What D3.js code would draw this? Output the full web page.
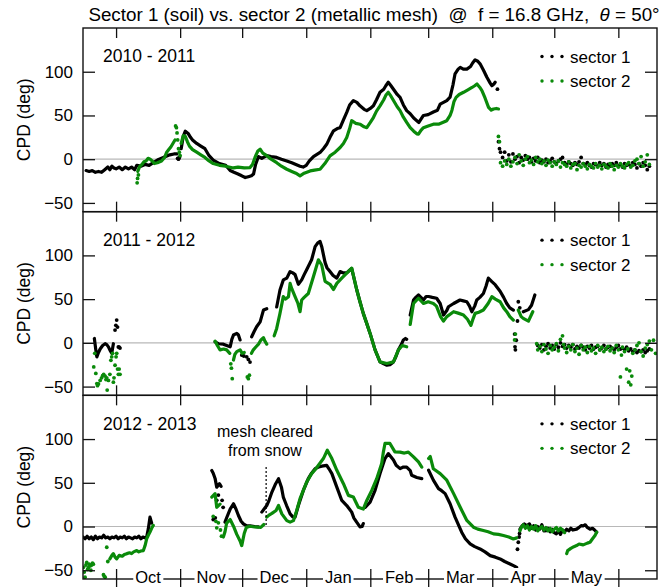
<!DOCTYPE html>
<html><head><meta charset="utf-8">
<script src="https://cdn.jsdelivr.net/npm/d3@7"></script>
<style>body{margin:0;background:#fff} svg{display:block}</style>
</head><body>
<svg id="chart" width="665" height="587"></svg>
<script>
// ---------- DATA (day offset from Oct 1, CPD in deg) ----------
const titleMain = "Sector 1 (soil) vs. sector 2 (metallic mesh)  @  f = 16.8 GHz,  ";
const titleTheta = "θ";
const titleEnd = " = 50°";
const yLabel = "CPD (deg)";
const yDomain = [-60, 150];
const yTicks = [-50, 0, 50, 100];
const xDomain = [-16, 261.7];
const monthDays = [0, 31, 61, 92, 123, 151, 182, 212, 243];
const monthLabels = ["Oct", "Nov", "Dec", "Jan", "Feb", "Mar", "Apr", "May"];
const panelLabels = ["2010 - 2011", "2011 - 2012", "2012 - 2013"];
const seriesNames = ["sector 1", "sector 2"];
const annotText = ["mesh cleared", "from snow"];
const annotDay = 72.6, annotTop = 68;

// 2010-2011
const s1_1011 = [[-14.5,-13],[-13,-14],[-11.5,-13],[-10,-15],[-8.5,-14],[-7,-15],[-5.5,-12],[-4,-9],[-3,-12],[-2,-8],[-1,-10],[0,-11],[1.5,-9],[3,-12],[4.5,-9],[6,-11],[7.5,-9],[9,-12],[10,-7],[12,-8],[14,-6],[16,-7],[18,-4],[20,-1],[22,1],[24,3],[26,5],[28,6],[29.5,6],null,[31.5,12],[32.5,26],[33.5,32],[35,29],[36,25],[37,22],[39,18],[41,15],[43,12],[45,4],[47,-1],[50,-5],[53,-7],[55.2,-13],[57,-15],[59,-17],[60.8,-19],[62.5,-21],[64,-20],[65.5,-19],[66.5,-17],[67.5,-6],[68.9,3],[70.5,1],[72.9,4],[75,3],[77.7,2],[80,0],[82.6,-2],[85,-4],[87,-6],[89,-8],[90.5,-9],[92,-7],[93.5,-2],[95.5,3],[98.7,7.7],[100.3,12],[101.9,17],[103.5,25],[105.2,32.5],[107,35],[108.4,36],[110,45],[111.6,53.5],[113,62],[114.8,67],[116.5,65],[118,61],[120,57],[121.3,55.5],[123,58],[124.5,61],[126,68],[127.7,76.5],[129.5,80],[130.5,84],[131.7,88],[133,84],[134.2,80],[136,74],[137.4,70.7],[139,62],[140.6,55.5],[142.3,52],[144,47],[145.5,44],[146.5,42],[148.7,50],[151,51],[153.5,54],[155.5,56],[156.8,63],[158.4,65],[160,67],[161.6,71],[163,85],[164,97.6],[165.5,103],[166.5,105],[168,103],[169.7,103],[171.5,106],[172.5,110],[173.7,113.6],[175,112],[176.1,109],[177.7,102],[179.4,93.7],[181,87],[181.8,84],[182.8,86],[183.4,88]];
const s2_1011 = [[10.5,-14],[11.5,-8],[12.5,-6],[13.5,-3],[14.5,-2],[15.5,1],[16.5,0],[17.5,-2],[18.5,-5],[20,-4],[22,-2],[23.5,2],[24.5,8],[25.5,11],[26.5,14],[27.5,18],[28.5,22],null,[31.5,18],[32.5,27],[33.5,26],[34.5,20],[35.5,15],[37,11],[39,8],[41,5],[43,2],[45,-2],[47,-5],[50,-7],[53,-8],[56.8,-10],[59,-9],[62,-10],[64.8,-9.6],[66,-6],[67.2,2],[68.5,9],[69.7,11.5],[71,7],[72.9,4],[75,0],[77.7,-4],[80,-8],[82.6,-11.5],[85,-14],[87,-16],[89,-19],[91,-16],[93.9,-13.4],[96,-12.5],[98.7,-11.5],[101,-5],[103.5,3.8],[106,8],[108.4,13.4],[110,18],[111.6,24.8],[113,35],[114,44],[116,41],[118,40],[120,37],[121.3,36],[123,42],[124.5,47.6],[126,55],[127.7,61],[129.5,68],[130.5,73],[131.7,76.5],[133,72],[134.5,66],[136,60],[137.4,55.5],[139,48],[140.6,42],[142.3,36],[144,32],[145.5,29],[146.3,28.6],[147.5,33],[148.7,36],[151,38],[153.5,40],[156,40],[158,42],[160,44],[161.6,50],[162.5,56],[163.5,66],[164.5,70.7],[166,74],[168.1,76.5],[170,79],[172.2,82],[173.5,84],[174.6,86],[176,82],[177,78.5],[178.5,70],[180.2,59.3],[181.5,56],[182.6,57.4],[184,58],[185,57.4]];
const s1_1011_dots = [[29.8,1],[30.2,0],[30.6,2],[184.5,80],[185,20],[185.5,12],[186,8],[187,2],[188,8],[189,-2],[190,5],[191,-3],[192,6],[193,0],[194,3],[195,-4],[196,2],[197,-1],[198,4],[199,0],[200,2],[201,-3],[202,1],[203,-2],[204,2],[205,-4],[206,-1],[207,-3],[208,0],[209,-4],[210,-2],[211,1],[212,-3],[213,-5],[214,-2],[215,0],[216,2],[217,-4],[218,-6],[219,-3],[220,-5],[221,-7],[222,-4],[223,-6],[224,-3],[225,2],[226,-5],[227,-6],[228,-4],[229,-7],[230,-9],[231,-5],[232,-6],[233,-8],[234,-4],[235,-7],[236,-5],[237,-9],[238,-6],[239,-8],[240,-5],[241,-7],[242,-4],[243,-8],[244,-6],[245,-9],[246,-5],[247,-7],[248,-6],[249,-8],[250,-4],[251,-6],[252,-10],[253,-5],[254,-8],[255,-4],[256,-7],[257,-12],[258,-8]];
const s2_1011_dots = [[10.2,-27],[10.4,-22],[10.8,-18],[28.8,38],[29.2,36],[29.5,30],[29.8,22],[30.2,12],[30.6,8],[31,4],[185,26],[185.5,20],[186,-4],[187,-8],[188,-2],[189,-6],[190,0],[191,-8],[192,-3],[193,2],[194,-5],[195,5],[196,-2],[197,-7],[198,0],[199,3],[200,-4],[201,-1],[202,-6],[203,2],[204,-3],[205,0],[206,-5],[207,-2],[208,-7],[209,-1],[210,-4],[211,-8],[212,-3],[213,-6],[214,-2],[215,-9],[216,-4],[217,-6],[218,-8],[219,-3],[220,-10],[221,-6],[222,-5],[223,-12],[224,-7],[225,-9],[226,-5],[227,-8],[228,-11],[229,-6],[230,-8],[231,-10],[232,-5],[233,-9],[234,-7],[235,-11],[236,-6],[237,-8],[238,-10],[239,-5],[240,-8],[241,-12],[242,-7],[243,-9],[244,-5],[245,-8],[246,-10],[247,-6],[248,-4],[249,-9],[250,-7],[251,-2],[252,0],[253,-5],[254,3],[255,-8],[256,-3],[257,5],[258,-6]];

// 2011-2012
const s1_1112 = [[-10.5,5],[-9.8,-8],[-9.3,-16],[-8.5,-11],[-7.7,-7],[-6.5,-3],[-5.3,-1],[-4.5,-2],[-3.7,-4.6],[-2.8,-9],[-2.1,-12],[-1.3,-1],null,[47.9,1.2],[49.5,-1],[51.9,-1.5],[53.5,-3],[55.2,-4.5],[56,4],[56.8,9],[58.4,10.8],[59.2,9],[60,3.3],null,[65.6,7],[66.8,13],[68,18.4],[69.7,24],[71.3,37.5],[72.9,39],null,[77.7,41],[79.3,60.5],[80.9,72],[82.6,74],[84.2,81.5],[85.5,80],[86.6,78],[88.2,67],[89.8,72],[91,78],[92.2,83.6],[94.6,95],[96.3,110],[97.5,114],[98.7,116],[99.5,110],[101.1,92],[102,86],[103.5,81.5],[105,77],[106.8,74],[108.4,81.5],[110,80],[111.6,80],[113,83],[114,85],[116.4,61],[118,47],[119.6,33.7],[121.3,22],[122.9,10.8],[125.3,-8],[127.7,-21.8],[129.5,-24],[131,-25.5],[132.5,-25],[134.2,-21.8],[135.5,-15],[136.6,-8],[138,-2],[139,3.3],[140,5],[140.6,4],null,[142.3,31.8],[143.9,49],[145,52],[146.3,54.7],[147.5,52],[148.7,49],[150,53],[151.2,53],[153,52],[155.1,51],[156.8,45],[158.4,31.8],[160,37],[160.8,41.3],[163.3,45],[166.4,49],[168,48],[169.7,47],[171,42],[172.1,35.6],[173.5,42],[174.5,49],[176,52],[177.7,56.4],[179,65],[180.1,74],[181.8,70],[183.4,66.5],[185.8,59],[187.5,52],[189,45],[190.5,40],[192.2,37.5],null,[197,35.6],[199.5,38],[201,43],[202.6,54.7]];
const s2_1112 = [[47.9,2],[49,-3],[50.3,-8],[52,-7],[53.5,-8],[55,-12],null,[56.8,-19.6],[57.5,-13],[58.4,-10],[60,-8],[61,-12],[62,-11],null,[65.5,-12],[66.4,-8],[67.5,-5],[68.9,-1.5],[70,3],[71.3,6],[72,2],[72.9,-1.5],null,[76.5,8],[77.7,16.5],[79.3,33.7],[80.9,52.8],[82,50],[83.4,52.8],[84.2,68],[85,62],[86.6,52.8],[88,45],[89,35.6],[89.8,49],[91,52],[93,56.4],[95.5,75.8],[97.9,95],[99.5,89],[101.1,70.4],[103.5,67],[105.2,61],[106.8,68],[109.2,74],[111.6,79.7],[114,85.4],[116.4,61],[118,47],[119.6,33.7],[121.3,22],[122.9,10.8],[125.3,-8],[127.7,-21.8],[131,-23.6],[134.2,-21.8],[136.6,-8],[138.5,-3],[140.6,-4.5],null,[142.3,21],[143.9,45],[146.3,51],[148.7,45],[151,47],[153.5,45],[155,42],[157,30],[158.4,24.8],[160,30],[163.3,35.6],[165.5,34],[168.1,31.8],[170,27],[171.7,20],[172.8,28],[173.7,33.7],[175.5,35],[177.7,37.5],[180,45],[181.8,52.8],[183.5,50],[185.8,47],[187.5,40],[189,35.6],[190.5,30],[192.2,26],null,[194.6,37.5],[196,30],[197,28],[199.5,24.8],[201.6,35.6]];
const s1_1112_dots = [[-0.5,14.6],[-0.1,20],[0.3,26],[0.7,18],[1.1,-4.6],[1.5,-5],[1.9,-6],[60.8,-14],[61.8,-15],[63.2,-16],[64,-19],[64.8,-22],[192.8,10],[193,-4.5],[193.2,-8],[193.6,3],[194.2,25],[194.6,47],[195.3,40],[204,-3],[205,-6],[206,-2],[207,-8],[208,-4],[209,-1],[210,-6],[211,-3],[212,-7],[213,-2],[214,-5],[215,0],[216,-4],[217,-2],[218,-6],[219,-3],[220,-5],[221,-2],[222,-7],[223,-4],[224,-6],[225,-3],[226,-5],[227,-8],[228,-4],[229,-6],[230,-3],[231,-7],[232,-5],[233,-4],[234,-8],[235,-6],[236,-3],[237,-7],[238,-5],[239,-4],[240,-6],[241,-8],[242,-5],[243,-3],[244,-7],[245,-6],[246,-8],[247,-5],[248,-9],[249,-7],[250,-10],[251,-8],[252,-11],[253,-9],[254,-10],[255,-8],[256,-11],[257,-9],[258,-7]];
const s2_1112_dots = [[-10.8,-27.5],[-10.3,-12],[-9.8,-35],[-9.3,-46.6],[-9,-49],[-8.5,-47],[-7.7,-43],[-7,-40],[-6.5,-37.5],[-6,-36],[-5.3,-38],[-4.9,-42],[-4.5,-40],[-4.3,-54],[-3.7,-43],[-3,-36],[-2.5,-20],[-2.1,-16],[-1.7,-12],[-1.3,-45],[-1,-40],[-0.5,-25.6],[0,-16],[0.3,-12],[0.7,-30],[1.1,-36],[1.5,-30],[1.9,-36],[55.5,-24],[55.8,-29],[56.2,-41],[63.5,-39],[64,-41],[64.5,-37],[192.8,3.3],[193.2,10],[203.5,-1],[204,-8],[205,-4],[206,-10],[207,-2],[208,-7],[209,-12],[210,-3],[211,-8],[212,-5],[213,-1],[214,-9],[215,4],[216,8],[216.5,-2],[217,-6],[218,-11],[219,-4],[220,-8],[221,-2],[222,-10],[223,-6],[224,-13],[225,-3],[226,-8],[227,-5],[228,-11],[229,-4],[230,-9],[231,-6],[232,-12],[233,-3],[234,-8],[235,-5],[236,-10],[237,-7],[238,-4],[239,-9],[240,-6],[241,-11],[242,-3],[243,-8],[244,-39],[244.5,-14],[245,-5],[246,-10],[247,-30],[247.5,-7],[248,-45],[248.5,-32],[249,-48],[249.5,-38],[250,-12],[251,-8],[252,-3],[253,0],[254,-10],[255,-15],[256,-6],[257,-2],[258,2],[259,-8],[260,3],[261,-12]];

// 2012-2013
const s1_1213 = [[-16,-12],[-15,-14],[-14,-11],[-13,-14],[-12,-12],[-11,-15],[-10,-11],[-9,-14],[-8,-12],[-7,-13],[-6,-10],[-5,-13],[-4,-12],[-3,-14],[-2,-12],[-1,-13],[0,-11],[1,-14],[2,-12],[3,-13],[4,-11],[5,-14],[6,-12],[7,-13],[8,-14],[9,-12],[10,-13],[11,-11],[12,-14],[13,-12],[14,-13],[14.8,-12],[15.6,-2.7],[16.4,10.7],[17.2,4],null,[46.3,64],[47,61],[47.9,55],[48.7,45],[50,49],[50.8,46],null,[52.7,5],[53.5,10],[55.2,20],[56.8,26],[58,20],[59.2,12.6],[60.5,6],[61.6,3],[63,1],[64.8,0.8],[67,0],[68.9,-0.4],null,[70.5,16.5],[72.9,24],[74,30],[75.4,39.4],[77,48],[78.6,54.7],[80,45],[80.9,33.7],[82.5,24],[84.2,14.5],[85.5,11],[86.6,10.7],[88.2,24],[90.6,41.3],[93,54.7],[94.6,61],[96.3,66.2],[98,68],[99.5,69],[101.9,70],[103,66],[104.4,60.5],[106.8,45],[109.2,29.8],[111.6,24],[114,16.5],[115,10],[116.4,5],[118,-0.4],[119,0],[119.6,3.4],null,[120.5,22],[122.9,28],[125.3,41.3],[127.7,60.5],[130.1,77.7],[131.7,83.4],[134.2,76],[135.5,70],[137.4,66.2],[139,68],[140.6,68],[142.3,64],[143,58.6],[145.5,56],[147.9,54.7],null,[151.2,64.3],[153.5,53],[156,43.4],[157.5,41],[159.2,37.6],[161.6,26],[164,10.7],[167.2,-6.5],[169,-14],[171.3,-19.9],[173.5,-23],[176.1,-25.6],[178.5,-29],[181,-33.3],[183.5,-35],[185.8,-37],[188,-40],[190.6,-42.8],[192.5,-45],[193.8,-46.7],null,[195.4,-3],[196.5,1],[197.5,3],[198.6,0.8],[200,3],[201,-2],[202,1],[203,-4],[204,0],[205,-3],[206,2],[207,-5],[208.2,-4.6],[209,-2],[210,-6],[211,-3],[212,-7],[213,-8.4],[214,-5],[215,-9],[216,-4],[217,-6],[218,-3],[219,-5],[220,-2],[221,-4],[222.8,-3],[224,-1],[225,1],[226,0.8],[227,2],[228,-1],[229.3,-3],[230.5,-2],[231.5,-4],[232.5,-6.5]];
const s2_1213 = [[-3,-37],[-2,-33],[-1.3,-31],[-0.5,-35],[0.3,-37],[1.5,-33],[3,-34],[4,-32],[5.2,-31],[6.5,-30],[7.5,-31],[8.5,-29],[10,-27.5],[11,-29],[12,-28],[13.2,-27.5],[14,-22],[14.8,-14],[15.6,-10],[16.4,-6.4],[17.2,-2],[18,1.3],null,[46.3,33.7],[47.9,37.5],[48.7,22],[50.3,25.6],null,[51.9,-12],[52.7,-6],[53.5,4],[55.2,8],[56.8,0.4],[58.4,-9],[60,-16.5],[60.8,-21.8],[62,-8],[63,-1],[64.8,0.3],[67,-0.5],[68.9,-0.8],[70,-1],[71.5,2.3],null,[72.9,10.7],[74,13],[75.4,15],[77.4,18.4],[78.6,24],[80.2,14.5],[82.6,6.7],[84.2,5],[85.8,6.7],[87.4,18.4],[89,31.8],[90.6,41.3],[92.2,50.8],[94.6,60.5],[96.3,65],[97.9,70],[100.3,77.7],[102.2,87.2],[104.4,77.7],[106.8,64.3],[110,49],[112.4,35.6],[114.8,33.7],[117.2,22],[119.6,20],[121.3,29.8],[123.7,41.3],[126.1,54.7],[128.5,72],[129.3,85],[130.1,95],[132.5,95],[134.9,85.3],[137.4,85],[139.5,84],[141.4,85],[143.9,79.7],[146.3,73.8],[147.9,68],null,[151.2,77.7],[152,80],[153.5,66],[156.8,60.5],[160,53],[163.3,37.6],[166.5,22],[169.7,6.9],[172.9,-0.8],[175,-3],[177.7,-4.6],[180,-6],[182.6,-8.4],[185,-9],[187.4,-10.3],[190,-12],[192.2,-14.2],[193.8,-13],null,[195.4,-5],[196,-1],[197,2],[198,-2],[199,1],[200,-4],[201,0],[202,-3],[203,1],[204,-5],[205,-2],[206,0],[207,-4],[208,-1],[209,-5],[210,-2],[211,-6],[212,-3],[213,-1],[214,-5],[215,-2],[216,-4],[217,-7],null,[218,-31],[218.5,-27.5],[220,-25],[221.5,-23],[222.8,-21.8],[224,-20],[226,-21],[228,-19],[229.3,-18],[230.5,-14],[231.7,-10.3],[232.5,-6.5]];
const s1_1213_dots = [[48.7,30],[49.5,36],[51.3,30],[51.8,22],[47,8],[48,10],[194.2,-26],[194.6,-18],[195,-12],[195.2,-8]];
const s2_1213_dots = [[-15.8,-46.7],[-15.4,-52],[-15,-58],[-14.6,-44],[-14.2,-41],[-13.8,-49],[-13.4,-47],[-13,-43],[-12.6,-45],[-12.2,-50],[-11.8,-44],[-11.4,-42],[-11,-43],[-6.1,-55],[-5.7,-57],[-5.3,-58],[-4.5,-23.7],[-4,-40],[47,11.5],[48.3,6],[48.7,-1.5],[49.5,4.2],[50.5,-4],[51,-11]];

const colors = ["#000000", "#0a8a0a"];

// ---------- DRAW ----------
const left = 83, right = 657, top0 = 28, bottom = 579;
const ph = (bottom - top0) / 3;
const font = "'Liberation Sans', Arial, Helvetica, sans-serif";
const svg = d3.select("#chart");
const x = d3.scaleLinear().domain(xDomain).range([left, right]);

const panels = [
  {s1: s1_1011, s2: s2_1011, d1: s1_1011_dots, d2: s2_1011_dots},
  {s1: s1_1112, s2: s2_1112, d1: s1_1112_dots, d2: s2_1112_dots},
  {s1: s1_1213, s2: s2_1213, d1: s1_1213_dots, d2: s2_1213_dots}
];

// title
const title = svg.append("text").attr("x", 374).attr("y", 21).attr("text-anchor", "middle")
  .attr("font-family", font).attr("font-size", 18.8).attr("fill", "#000").style("white-space", "pre");
title.append("tspan").text(titleMain);
title.append("tspan").attr("font-style", "italic").text(titleTheta);
title.append("tspan").text(titleEnd);

panels.forEach((p, i) => {
  const t = top0 + i * ph, b = t + ph;
  const y = d3.scaleLinear().domain(yDomain).range([b, t]);
  const g = svg.append("g");
  const cid = "clip" + i;
  svg.append("clipPath").attr("id", cid).append("rect")
    .attr("x", left).attr("y", t).attr("width", right - left).attr("height", ph);

  // zero line
  g.append("line").attr("x1", left).attr("x2", right).attr("y1", y(0)).attr("y2", y(0))
    .attr("stroke", "#b8b8b8").attr("stroke-width", 1.2);

  const plot = g.append("g").attr("clip-path", `url(#${cid})`);
  const line = d3.line().defined(q => q !== null).x(q => x(q[0])).y(q => y(q[1]));
  [[p.s1, p.d1, colors[0]], [p.s2, p.d2, colors[1]]].forEach(([ser, dots, c]) => {
    plot.append("path").datum(ser).attr("d", line).attr("fill", "none").attr("stroke", c)
      .attr("stroke-width", 3.2).attr("stroke-linejoin", "round").attr("stroke-linecap", "round");
    plot.selectAll(null).data(dots).enter().append("circle")
      .attr("cx", q => x(q[0])).attr("cy", q => y(q[1])).attr("r", 1.9).attr("fill", c);
  });

  // axes
  const yl = d3.axisLeft(y).tickValues(yTicks).tickSize(-12).tickPadding(10);
  const ya = g.append("g").attr("transform", `translate(${left},0)`).call(yl);
  const yr = d3.axisRight(y).tickValues(yTicks).tickSize(-12).tickFormat("");
  const yb = g.append("g").attr("transform", `translate(${right},0)`).call(yr);
  const xt = d3.axisTop(x).tickValues(monthDays).tickSize(-10).tickFormat("");
  const xa = g.append("g").attr("transform", `translate(0,${t})`).call(xt);
  const xb = d3.axisBottom(x).tickValues(monthDays).tickSize(i === 2 ? 0 : -10).tickFormat("");
  const xc = g.append("g").attr("transform", `translate(0,${b})`).call(xb);
  [ya, yb, xa, xc].forEach(a => {
    a.select(".domain").remove();
    a.selectAll("line").attr("stroke", "#111").attr("stroke-width", 1.3);
    a.selectAll("text").attr("font-family", font).attr("font-size", 17).attr("fill", "#000");
  });

  // border
  g.append("rect").attr("x", left).attr("y", t).attr("width", right - left).attr("height", ph)
    .attr("fill", "none").attr("stroke", "#111").attr("stroke-width", 1.4);

  // y label
  g.append("text").attr("transform", `translate(30,${(t + b) / 2}) rotate(-90)`)
    .attr("text-anchor", "middle").attr("font-family", font).attr("font-size", 17.5).text(yLabel);

  // panel label
  g.append("text").attr("x", 103).attr("y", t + 34.3).attr("font-family", font)
    .attr("font-size", 17.5).text(panelLabels[i]);

  // legend
  seriesNames.forEach((nm, k) => {
    const ly = t + 28.5 + k * 24.5;
    g.selectAll(null).data([0, 1, 2]).enter().append("circle")
      .attr("cx", j => 542 + j * 10).attr("cy", ly).attr("r", 1.7).attr("fill", colors[k]);
    g.append("text").attr("x", 570).attr("y", ly + 6).attr("font-family", font)
      .attr("font-size", 17).text(nm);
  });

  if (i === 2) {
    // annotation
    g.append("line").attr("x1", x(annotDay)).attr("x2", x(annotDay)).attr("y1", y(annotTop)).attr("y2", y(0))
      .attr("stroke", "#000").attr("stroke-width", 1.2).attr("stroke-dasharray", "2,2");
    annotText.forEach((s, k) => {
      g.append("text").attr("x", 265).attr("y", t + 41.7 + k * 19).attr("text-anchor", "middle")
        .attr("font-family", font).attr("font-size", 16).text(s);
    });
    // bottom ticks crossing border
    const xo = d3.axisBottom(x).tickValues(monthDays).tickSize(10).tickFormat("");
    const xog = g.append("g").attr("transform", `translate(0,${b - 10})`).call(xo);
    xog.select(".domain").remove();
    xog.selectAll("line").attr("y2", 20).attr("stroke", "#111").attr("stroke-width", 1.3);
    // month labels with white background
    monthLabels.forEach((m, k) => {
      const cx = x((monthDays[k] + monthDays[k + 1]) / 2);
      const tx = g.append("text").attr("x", cx).attr("y", b + 4).attr("text-anchor", "middle")
        .attr("font-family", font).attr("font-size", 16.5).text(m);
      const bb = tx.node().getBBox();
      g.insert("rect", () => tx.node()).attr("x", bb.x - 2).attr("y", bb.y).attr("width", bb.width + 4)
        .attr("height", bb.height).attr("fill", "#fff");
    });
  }
});
</script>
</body></html>
